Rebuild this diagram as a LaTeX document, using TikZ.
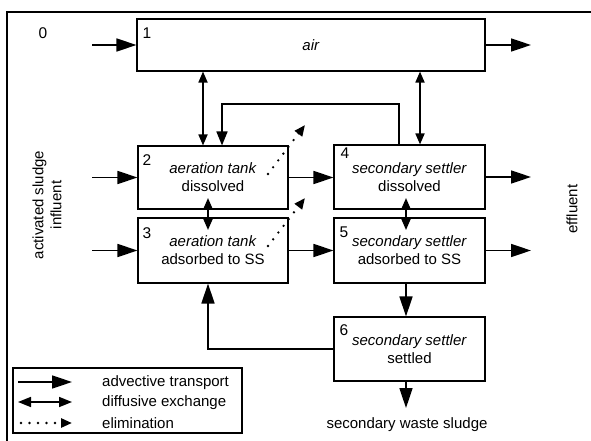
\documentclass[tikz,border=0pt]{standalone}
\usepackage{fontspec}
\setmainfont{Liberation Sans}
\usetikzlibrary{arrows.meta,calc}
\begin{document}
\begin{tikzpicture}[x=1pt,y=-1pt,
  box/.style={draw,line width=1.1pt,inner sep=0pt,align=center,font=\fontsize{15}{18}\selectfont},
  numlbl/.style={inner sep=0pt,font=\fontsize{15.5}{18}\selectfont},
  txt/.style={inner sep=0pt,font=\fontsize{15}{18}\selectfont},
  adv/.style={line width=1.7pt,-{Triangle[length=20pt,width=13pt]}},
  rec/.style={line width=1.7pt,-{Triangle[length=14pt,width=11pt]}},
  dif/.style={line width=1.7pt,{Triangle[length=11pt,width=9pt]}-{Triangle[length=11pt,width=9pt]}},
  elim/.style={line width=2.6pt,line cap=round,dash pattern=on 0pt off 8.5pt,-{Triangle[length=11pt,width=9pt]}}]
\useasboundingbox (0,0) rectangle (591,441);
% outer frame (only top and left edges visible)
\draw[line width=1.1pt] (7,441) -- (7,12) -- (591,12);

% compartments
\node[box,minimum width=348pt,minimum height=52pt] (b1) at (311,45) {\textit{air}};
\node[box,minimum width=150pt,minimum height=63pt] (b2) at (213,177.5) {\textit{aeration tank}\\dissolved};
\node[box,minimum width=150pt,minimum height=65pt] (b3) at (213,250.5) {\textit{aeration tank}\\adsorbed to SS};
\node[box,minimum width=151pt,minimum height=64pt] (b4) at (409.5,177) {\textit{secondary settler}\\dissolved};
\node[box,minimum width=151pt,minimum height=65pt] (b5) at (409.5,250.5) {\textit{secondary settler}\\adsorbed to SS};
\node[box,minimum width=151pt,minimum height=64pt] (b6) at (409.5,349) {\textit{secondary settler}\\settled};

% numbers
\node[numlbl] (n0) at (43,33) {0};
\node[numlbl] (n1) at (147,33) {1};
\node[numlbl] (n2) at (147,160) {2};
\node[numlbl] (n3) at (147,233) {3};
\node[numlbl] (n4) at (345,153) {4};
\node[numlbl] (n5) at (344,232) {5};
\node[numlbl] (n6) at (344,330) {6};

% side labels
\node[txt,rotate=90,align=center] (infl) at (47,205) {activated sludge\\influent};
\node[txt,rotate=90] (effl) at (572,209) {effluent};
\node[txt] (waste) at (407,425) {secondary waste sludge};

% free ends
\coordinate (i1) at (92,45);
\coordinate (i2) at (92,177.5);
\coordinate (i3) at (92,250.5);
\coordinate (o1) at (531,45);
\coordinate (o4) at (531,177);
\coordinate (o5) at (531,250.5);

% advective transport
\draw[adv] (i1) -- (b1.west);
\draw[adv] (b1.east) -- (o1);
\draw[adv] (i2) -- (b2.west);
\draw[adv] (i3) -- (b3.west);
\draw[adv] (b2.east) -- (b2.east -| b4.west);
\draw[adv] (b3.east) -- (b3.east -| b5.west);
\draw[adv] (b4.east) -- (o4);
\draw[adv] (b5.east) -- (o5);

% diffusive exchange
\coordinate (x12) at (203,100);
\coordinate (x14) at (420,100);
\draw[dif] (x12 |- b1.south) -- (x12 |- b2.north);
\draw[dif] (x14 |- b1.south) -- (x14 |- b4.north);
\coordinate (x23a) at (208,198);
\coordinate (x23b) at (208,230);
\draw[dif] (x23a) -- (x23b);
\coordinate (x45a) at (406,198);
\coordinate (x45b) at (406,230);
\draw[dif] (x45a) -- (x45b);

% recycles
\coordinate (r4) at (399,104);
\coordinate (r2) at (222,104);
\draw[rec] (r4 |- b4.north) -- (r4) -- (r2) -- (r2 |- b2.north);
\coordinate (r63) at (208,349);
\draw[adv] (b6.west) -- (r63) -- (r63 |- b3.south);

% settling and waste
\coordinate (x56) at (406,300);
\coordinate (w) at (406,408);
\draw[adv] (x56 |- b5.south) -- (x56 |- b6.north);
\draw[adv] (x56 |- b6.south) -- (w);

% elimination
\coordinate (e2s) at (268,174);
\coordinate (e2e) at (305,125);
\coordinate (e3s) at (268,246);
\coordinate (e3e) at (305,198);
\draw[elim] (e2s) -- (e2e);
\draw[elim] (e3s) -- (e3e);

% legend
\node[draw,line width=1.1pt,minimum width=229pt,minimum height=65pt,inner sep=0pt] (leg) at (127.5,400.5) {};
\coordinate (la1) at (18,382);
\coordinate (la2) at (72,382);
\coordinate (lb1) at (18,402);
\coordinate (lb2) at (72,402);
\coordinate (lc1) at (21,423);
\coordinate (lc2) at (72,423);
\draw[adv] (la1) -- (la2);
\draw[line width=1.7pt,{Triangle[length=13pt,width=10pt]}-{Triangle[length=13pt,width=10pt]}] (lb1) -- (lb2);
\draw[elim] (lc1) -- (lc2);
\node[txt,anchor=west] (lt1) at (102,383) {advective transport};
\node[txt,anchor=west] (lt2) at (102,403) {diffusive exchange};
\node[txt,anchor=west] (lt3) at (102,423) {elimination};
\end{tikzpicture}
\end{document}
